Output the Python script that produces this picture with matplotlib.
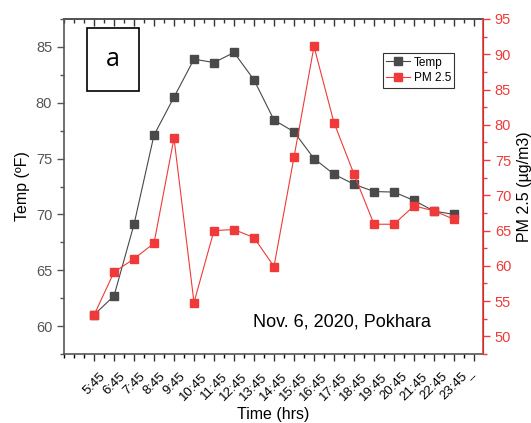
import matplotlib
matplotlib.use('Agg')
import matplotlib.pyplot as plt
from matplotlib.ticker import MultipleLocator

# data
times = ['5:45', '6:45', '7:45', '8:45', '9:45', '10:45', '11:45', '12:45', '13:45',
         '14:45', '15:45', '16:45', '17:45', '18:45', '19:45', '20:45', '21:45',
         '22:45', '23:45']
tick_labels = times + ['--']
temp = [61.0, 62.7, 69.1, 77.1, 80.5, 83.9, 83.6, 84.5, 82.05, 78.45, 77.4, 75.0,
        73.6, 72.7, 72.05, 72.0, 71.25, 70.3, 70.0]
pm25 = [53.0, 59.1, 61.0, 63.2, 78.1, 54.8, 65.0, 65.15, 64.0, 59.9, 75.4, 91.1,
        80.3, 73.0, 65.9, 65.9, 68.5, 67.8, 66.6]

plt.rcParams['font.family'] = ['Liberation Sans', 'DejaVu Sans']
dark = '#484848'
red = '#f03a3a'

fig = plt.figure(figsize=(5.31, 4.23), dpi=100)
ax = fig.add_axes([0.1205, 0.1631, 0.7891, 0.792])
ax2 = ax.twinx()

x = list(range(len(times)))
l1, = ax.plot(x, temp, color=dark, lw=0.8, marker='s', ms=6, mfc='#4a4a4a', mec='#4a4a4a',
              label='Temp', zorder=3)
l2, = ax2.plot(x, pm25, color=red, lw=0.8, marker='s', ms=6, mfc=red, mec=red,
               label='PM 2.5', zorder=3)

ax.set_xlim(-1.5, 19.45)
ax.set_ylim(57.5, 87.5)
ax2.set_ylim(47.5, 95)

ax.set_xticks(range(len(tick_labels)))
ax.set_xticklabels(tick_labels, rotation=45, ha='center')
ax.xaxis.set_minor_locator(MultipleLocator(0.5))
ax.yaxis.set_major_locator(MultipleLocator(5))
ax.yaxis.set_minor_locator(MultipleLocator(2.5))
ax2.yaxis.set_major_locator(MultipleLocator(5))
ax2.yaxis.set_minor_locator(MultipleLocator(2.5))

ax.tick_params(axis='x', which='major', direction='out', length=5, width=1,
               labelsize=9.5, pad=7, colors='#333333')
ax.tick_params(axis='x', which='minor', direction='out', length=3, width=1)
ax.tick_params(axis='x', which='both', labelcolor='black', top=False)
ax.tick_params(axis='y', which='major', direction='out', length=5, width=1,
               labelsize=10.5, labelcolor='#555555', color='#555555')
ax.tick_params(axis='y', which='minor', direction='out', length=3, width=1, color='#555555')
ax2.tick_params(axis='y', which='major', direction='out', length=5, width=1,
                labelsize=10.5, colors=red)
ax2.tick_params(axis='y', which='minor', direction='out', length=3, width=1, colors=red)

for s in ['left', 'bottom', 'top']:
    ax.spines[s].set_color('#555555')
    ax.spines[s].set_linewidth(1.2)
ax2.spines['right'].set_color(red)
ax2.spines['right'].set_linewidth(1.2)
for s in ['left', 'bottom', 'top']:
    ax2.spines[s].set_visible(False)

# top ticks inward
sec = ax.secondary_xaxis('top')
sec.set_xticks(range(len(tick_labels)))
sec.xaxis.set_minor_locator(MultipleLocator(0.5))
sec.tick_params(which='major', direction='in', length=5, width=1, labeltop=False, color='#333333')
sec.tick_params(which='minor', direction='in', length=3, width=1, color='#333333')
sec.spines['top'].set_color('#333333')
sec.spines['top'].set_linewidth(1.2)

ax.set_xlabel('Time (hrs)', fontsize=11.5)
ax.xaxis.set_label_coords(0.5, -0.158)
ax.set_ylabel('Temp (ºF)', fontsize=11.5, labelpad=4)
ax2.set_ylabel('PM 2.5 (µg/m3)', fontsize=11.5, labelpad=4)

ax.text(0.663, 0.095, 'Nov. 6, 2020, Pokhara', transform=ax.transAxes, fontsize=13,
        ha='center', va='center')
ax.text(0.117, 0.879, 'a', transform=ax.transAxes, fontsize=18, ha='center', va='center',
        family=['Open Sans', 'DejaVu Sans'],
        bbox=dict(boxstyle='square,pad=0.75', fc='white', ec='black', lw=1.2))

leg = ax2.legend([l1, l2], ['Temp', 'PM 2.5'], loc='upper left',
                 bbox_to_anchor=(0.761, 0.8985), fontsize=8.5, frameon=True, fancybox=False,
                 edgecolor='black', handlelength=2.0, handletextpad=0.3, borderpad=0.3,
                 labelspacing=0.3, borderaxespad=0, markerscale=0.85)
leg.get_frame().set_linewidth(0.8)

fig.savefig('out.png', dpi=100)
